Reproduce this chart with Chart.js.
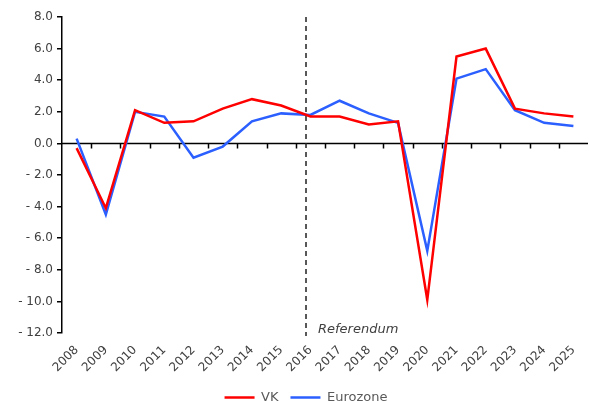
<!DOCTYPE html>
<html>
<head>
<meta charset="utf-8">
<script src="https://cdn.jsdelivr.net/npm/chart.js@4"></script>
<style>
  html, body { margin: 0; padding: 0; background: #fff; overflow: hidden; }
  #wrap { width: 589px; height: 414px; }
</style>
</head>
<body>
<div id="wrap"><canvas id="chart"></canvas></div>
<script>
const years = ['2008', '2009', '2010', '2011', '2012', '2013', '2014', '2015', '2016',
               '2017', '2018', '2019', '2020', '2021', '2022', '2023', '2024', '2025'];
const uk = [-0.3, -4.1, 2.1, 1.3, 1.4, 2.2, 2.8, 2.4, 1.7, 1.7, 1.2, 1.4, -9.9, 5.5, 6.0, 2.2, 1.9, 1.7];
const eurozone = [0.3, -4.5, 2.0, 1.7, -0.9, -0.2, 1.4, 1.9, 1.8, 2.7, 1.9, 1.3, -6.8, 4.1, 4.7, 2.1, 1.3, 1.1];
const yTicks = [8, 6, 4, 2, 0, -2, -4, -6, -8, -10, -12];
const referendumLabel = 'Referendum';
const referendumAt = 7.85; // just before the 2016 point

const font = "'DejaVu Sans', sans-serif";

// zero line with category ticks + referendum marker
const extras = {
    id: 'extras',
    afterLayout(c) {
        // legend sits a bit right of centre in the original
        c.legend.left += 12;
        c.legend.right += 12;
    },
    beforeDatasetsDraw(c) {
        const ctx = c.ctx;
        const x = c.scales.x, y = c.scales.y;
        const y0 = y.getPixelForValue(0);
        const area = c.chartArea;
        ctx.save();
        ctx.strokeStyle = '#000';
        ctx.lineWidth = 1.5;
        ctx.beginPath();
        ctx.moveTo(area.left, y0);
        ctx.lineTo(area.right, y0);
        const step = (area.right - area.left) / years.length;
        for (let i = 1; i < years.length; i++) {
            const px = Math.round(area.left + i * step) + 0.5;
            ctx.moveTo(px, y0);
            ctx.lineTo(px, y0 + 5);
        }
        ctx.stroke();

        const rx = x.getPixelForValue(referendumAt);
        ctx.setLineDash([5, 4]);
        ctx.strokeStyle = '#222';
        ctx.beginPath();
        ctx.moveTo(rx, area.top);
        ctx.lineTo(rx, area.bottom + 3);
        ctx.stroke();
        ctx.setLineDash([]);

        ctx.fillStyle = '#404040';
        ctx.font = "italic 13px " + font;
        ctx.textBaseline = 'middle';
        ctx.fillText(referendumLabel, rx + 12, area.bottom - 3);
        ctx.restore();
    }
};

new Chart(document.querySelector('#chart'), {
    type: 'line',
    data: {
        labels: years,
        datasets: [
            {
                label: 'VK',
                data: uk,
                borderColor: '#ff0000',
                backgroundColor: '#ff0000',
                borderWidth: 2.5,
                pointRadius: 0,
                tension: 0
            },
            {
                label: 'Eurozone',
                data: eurozone,
                borderColor: '#2b5fff',
                backgroundColor: '#2b5fff',
                borderWidth: 2.5,
                pointRadius: 0,
                tension: 0
            }
        ]
    },
    options: {
        responsive: true,
        maintainAspectRatio: false,
        animation: false,
        layout: { padding: { top: 17, right: 1, left: 0, bottom: 0 } },
        plugins: {
            tooltip: { enabled: false },
            legend: {
                position: 'bottom',
                labels: {
                    usePointStyle: true,
                    pointStyle: 'line',
                    pointStyleWidth: 30,
                    boxWidth: 30,
                    padding: 12,
                    color: '#595959',
                    font: { family: font, size: 13 }
                }
            }
        },
        scales: {
            x: {
                offset: true,
                grid: { display: false },
                border: { display: false },
                ticks: {
                    minRotation: 45,
                    maxRotation: 45,
                    color: '#404040',
                    font: { family: font, size: 12 },
                    padding: 2
                },
                afterFit(s) { s.height = 46; }
            },
            y: {
                min: -12,
                max: 8,
                afterBuildTicks(s) { s.ticks = yTicks.map(v => ({ value: v })); },
                grid: { drawOnChartArea: false, drawTicks: true, tickLength: 5, color: '#000', lineWidth: 1.5 },
                border: { display: true, color: '#000', width: 1.5 },
                ticks: {
                    color: '#404040',
                    font: { family: font, size: 12 },
                    padding: 4,
                    callback: v => v < 0 ? '- ' + Math.abs(v).toFixed(1) : v.toFixed(1)
                },
                afterFit(s) { s.width = 62; }
            }
        }
    },
    plugins: [extras]
});
</script>
</body>
</html>
